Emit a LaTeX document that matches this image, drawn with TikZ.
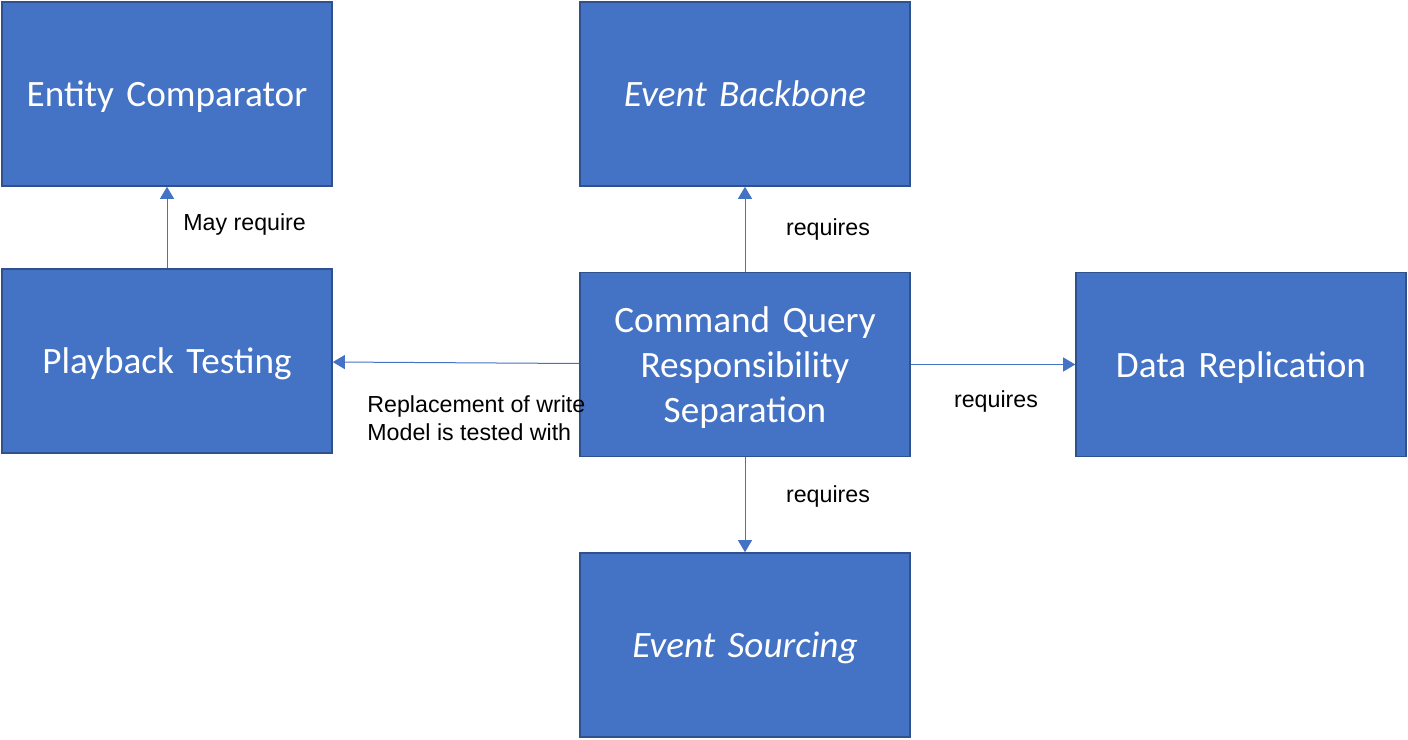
\documentclass[tikz,border=0pt]{standalone}
\usepackage{fontspec}
\setmainfont{Carlito}
\newfontfamily\lblfont{Liberation Sans}
\usetikzlibrary{arrows.meta}
\definecolor{boxblue}{HTML}{4472C4}
\definecolor{boxedge}{HTML}{2F528F}

\tikzset{
  pattern box/.style={draw=boxedge, line width=0.8pt, fill=boxblue, text=white,
    minimum width=165pt, minimum height=92pt, inner sep=0pt,
    text width=150pt, align=center, text depth=0pt,
    font=\fontsize{18.6}{22.5}\selectfont},
  rel/.style={draw=boxblue, line width=0.5pt, -{Triangle[width=7pt,length=6pt]}},
  rel label/.style={font=\lblfont\fontsize{11.6}{14}\selectfont, inner sep=0pt}
}

\begin{document}
\begin{tikzpicture}[x=0.5pt,y=-0.5pt]
    \useasboundingbox (0,0) rectangle (1408,739);
    \node (EC) at (167,94)  [pattern box] {Entity Comparator};
    \node (EB) at (745,94)  [pattern box] {\itshape Event Backbone};
    \node (PT) at (167,361)  [pattern box] {Playback Testing};
    \node (CQRS) at (745,364.5)  [pattern box, text depth=45pt]
      {Command Query Responsibility Separation};
    \node (DR) at (1241,364.5)  [pattern box] {Data Replication};
    \node (ES) at (745,645)  [pattern box] {\itshape Event Sourcing};
    \draw[rel] (PT) to (EC);
    \draw[rel] (CQRS) to (EB);
    \draw[rel] (CQRS) to (PT);
    \draw[rel] (CQRS) to (DR);
    \draw[rel] (CQRS) to (ES);
    \node (mayreq) at (183,224) [rel label, anchor=west] {May require};
    \node (reqtop) at (828,229) [rel label] {requires};
    \node (reqright) at (996,401) [rel label] {requires};
    \node (reqbot) at (828,496) [rel label] {requires};
    \node (replace) at (367,418) [rel label, anchor=west, align=left]
      {Replacement of write\\Model is tested with};
  \end{tikzpicture}
\end{document}
